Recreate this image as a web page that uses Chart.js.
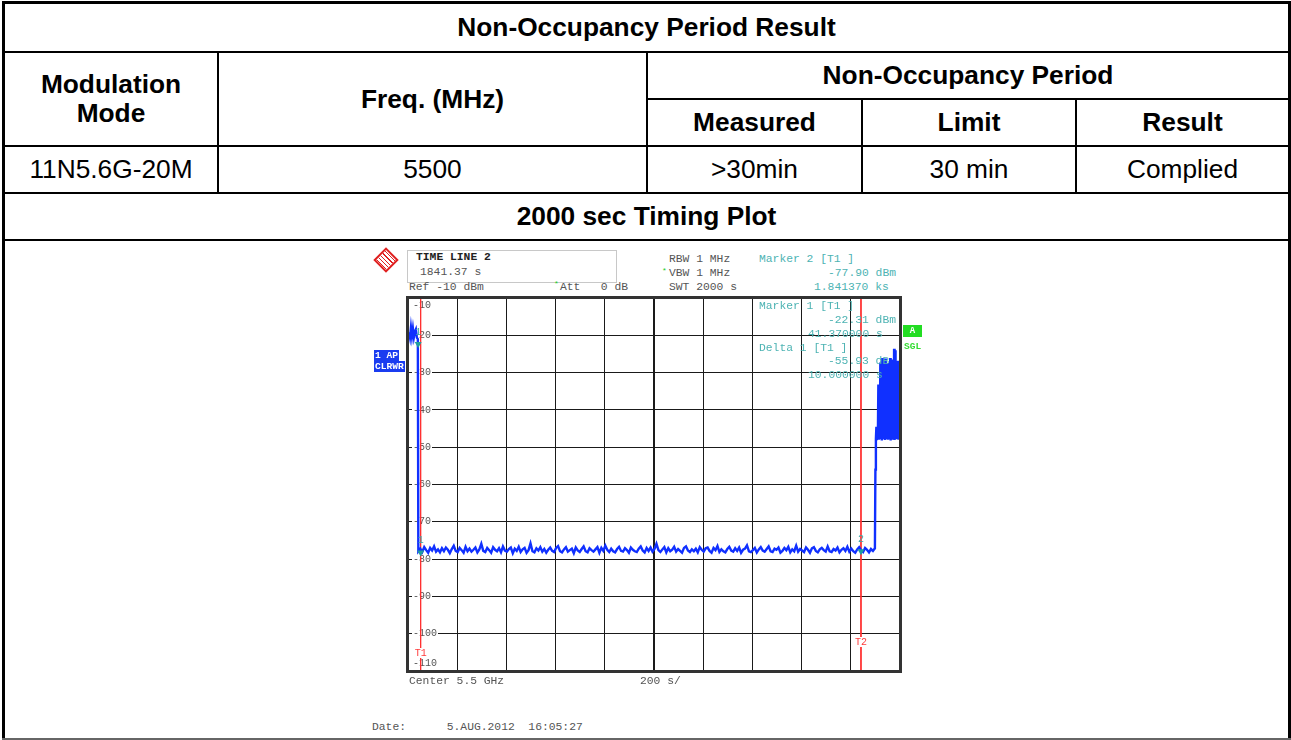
<!DOCTYPE html>
<html>
<head>
<meta charset="utf-8">
<script src="https://cdn.jsdelivr.net/npm/chart.js@4.4.0/dist/chart.umd.min.js"></script>
<style>
  html, body { margin: 0; padding: 0; background: #fff; }
  #page { position: relative; width: 1291px; height: 740px; overflow: hidden; font-family: "Liberation Sans", Arial, sans-serif; color: #000; }
  .ln { position: absolute; background: #000; }
  .cell { position: absolute; display: flex; align-items: center; justify-content: center; text-align: center; font-size: 26.3px; line-height: 29px; }
  .b { font-weight: bold; }
  .m { position: absolute; font: 11.33px/14px "Liberation Mono", monospace; white-space: pre; color: #555; }
  .t { color: #4db3b3; }
  .g { color: #22cc22; }
  #plot { position: absolute; left: 360px; top: 290px; }
  #tlbox { position: absolute; left: 407px; top: 250px; width: 208px; height: 31px; border: 1px solid #c8c8c8; }
  #logo { position: absolute; left: 377px; top: 251px; width: 14px; height: 14px; border: 2px solid #e02020; transform: rotate(45deg);
          background: repeating-linear-gradient(0deg, #e02020 0 1px, #fff 1px 3px); }
  #trc { position: absolute; left: 374px; top: 350px; font: bold 9.6px/11px "Liberation Mono", monospace; color: #fff; }
  #trc span { display: block; background: #1a3cf0; padding: 0 1px; width: fit-content; }
  #abox { position: absolute; left: 903px; top: 325px; width: 19px; height: 12px; background: #22dd22; color: #fff; font: bold 9px/12px "Liberation Mono", monospace; text-align: center; }
  #sgl { position: absolute; left: 904px; top: 341px; color: #33dd33; font: bold 9.5px/11px "Liberation Mono", monospace; }
</style>
</head>
<body>
<div id="page">
  <!-- table frame -->
  <div class="ln" style="left:2px;top:1px;width:1289px;height:3px"></div>
  <div class="ln" style="left:2px;top:1px;width:3px;height:739px"></div>
  <div class="ln" style="left:1288px;top:1px;width:3px;height:739px"></div>
  <div class="ln" style="left:2px;top:51px;width:1289px;height:2px"></div>
  <div class="ln" style="left:646px;top:98px;width:645px;height:2px"></div>
  <div class="ln" style="left:2px;top:145px;width:1289px;height:2px"></div>
  <div class="ln" style="left:2px;top:192px;width:1289px;height:2px"></div>
  <div class="ln" style="left:2px;top:239px;width:1289px;height:2px"></div>
  <div class="ln" style="left:2px;top:738px;width:1289px;height:2px;background:#666"></div>
  <div class="ln" style="left:217px;top:51px;width:2px;height:143px"></div>
  <div class="ln" style="left:646px;top:51px;width:2px;height:143px"></div>
  <div class="ln" style="left:861px;top:98px;width:2px;height:96px"></div>
  <div class="ln" style="left:1075px;top:98px;width:2px;height:96px"></div>

  <div class="cell b" style="left:5px;top:4px;width:1283px;height:47px">Non-Occupancy Period Result</div>
  <div class="cell b" style="left:5px;top:53px;width:212px;height:92px">Modulation<br>Mode</div>
  <div class="cell b" style="left:219px;top:53px;width:427px;height:92px">Freq. (MHz)</div>
  <div class="cell b" style="left:648px;top:53px;width:640px;height:45px">Non-Occupancy Period</div>
  <div class="cell b" style="left:648px;top:100px;width:213px;height:45px">Measured</div>
  <div class="cell b" style="left:863px;top:100px;width:212px;height:45px">Limit</div>
  <div class="cell b" style="left:1077px;top:100px;width:211px;height:45px">Result</div>
  <div class="cell" style="left:5px;top:147px;width:212px;height:45px">11N5.6G-20M</div>
  <div class="cell" style="left:219px;top:147px;width:427px;height:45px">5500</div>
  <div class="cell" style="left:648px;top:147px;width:213px;height:45px">&gt;30min</div>
  <div class="cell" style="left:863px;top:147px;width:212px;height:45px">30 min</div>
  <div class="cell" style="left:1077px;top:147px;width:211px;height:45px">Complied</div>
  <div class="cell b" style="left:5px;top:194px;width:1283px;height:45px">2000 sec Timing Plot</div>

  <!-- analyzer screen -->
  <div id="logo"></div>
  <div id="tlbox"></div>
  <div class="m" style="left:416px;top:250px;font-weight:bold;color:#222">TIME LINE 2</div>
  <div class="m" style="left:420px;top:265px">1841.37 s</div>
  <div class="m" style="left:409px;top:280px">Ref -10 dBm</div>
  <div class="m g" style="left:554px;top:277px;font-size:8px">*</div>
  <div class="m" style="left:560px;top:280px">Att   0 dB</div>
  <div class="m" style="left:669px;top:252px">RBW 1 MHz</div>
  <div class="m g" style="left:662px;top:264px;font-size:8px">*</div>
  <div class="m" style="left:669px;top:266px">VBW 1 MHz</div>
  <div class="m" style="left:669px;top:280px">SWT 2000 s</div>
  <div class="m t" style="left:759px;top:252px">Marker 2 [T1 ]</div>
  <div class="m t" style="left:828px;top:266px">-77.90 dBm</div>
  <div class="m t" style="left:814px;top:280px">1.841370 ks</div>

  <canvas id="plot" width="570" height="400"></canvas>

  <div class="m t" style="left:759px;top:299px">Marker 1 [T1 ]</div>
  <div class="m t" style="left:828px;top:313px">-22.31 dBm</div>
  <div class="m t" style="left:808px;top:327px">41.370000 s</div>
  <div class="m t" style="left:759px;top:341px">Delta 1 [T1 ]</div>
  <div class="m t" style="left:828px;top:354px">-55.93 dB</div>
  <div class="m t" style="left:808px;top:368px">10.000000 s</div>
  <div id="abox">A</div>
  <div id="sgl">SGL</div>
  <div id="trc"><span>1 AP</span><span>CLRWR</span></div>
  <div class="m" style="left:409px;top:674px">Center 5.5 GHz</div>
  <div class="m" style="left:640px;top:674px">200 s/</div>
  <div class="m" style="left:372px;top:720px">Date:      5.AUG.2012  16:05:27</div>
</div>

<script>
// sweep: 2000 s, ref level -10 dBm, 10 dB/div
const sweepStart = 0;
const sweepEnd = 2000;
const sweepStep = 200;
const levelTop = -10;
const levelBottom = -110;
const levelStep = 10;

// before the channel is vacated (every 4 s from 0 s)
const startTime0 = 0, startDt = 4;
const startLevels = [-20.4, -19.2, -20.6, -17.9, -20.3, -18.2, -20.5, -19.0, -18.4, -20.6, -21.0];

// noise floor during non-occupancy (every 8 s from 42 s)
const floorTime0 = 42, floorDt = 8;
const floorLevels = [
  -77.9, -77.2, -78.1, -76.8, -77.6, -78.3, -77.0, -77.7, -76.6, -78.0,
  -77.4, -78.2, -77.1, -77.9, -76.9, -77.5, -78.4, -77.3, -76.4, -77.8,
  -78.1, -77.0, -77.6, -78.3, -76.7, -77.9, -77.2, -78.0, -77.5, -76.9,
  -78.2, -77.4, -75.9, -77.8, -78.1, -77.0, -77.6, -78.3, -76.8, -77.5,
  -77.9, -77.1, -78.2, -76.6, -77.7, -78.0, -77.3, -76.9, -78.4, -77.2,
  -77.8, -76.7, -78.1, -77.4, -77.0, -78.3, -77.6, -75.8, -77.9, -78.2,
  -77.1, -77.7, -76.8, -78.0, -77.3, -78.3, -77.5, -76.9, -77.8, -78.1,
  -77.0, -76.5, -77.9, -78.2, -77.4, -76.8, -78.0, -77.6, -77.2, -78.4,
  -76.9, -77.7, -78.1, -77.3, -76.6, -77.9, -78.2, -77.1, -77.6, -78.0,
  -77.4, -76.8, -78.3, -77.0, -77.8, -76.4, -77.5, -78.1, -77.2, -77.9,
  -78.2, -77.3, -76.7, -77.8, -78.0, -77.1, -77.6, -78.3, -76.9, -77.5,
  -77.9, -78.1, -77.2, -76.6, -77.7, -78.2, -77.0, -77.8, -76.9, -78.0,
  -77.3, -75.9, -77.6, -78.1, -77.4, -76.8, -78.2, -77.1, -77.9, -77.5,
  -76.7, -78.0, -77.3, -77.8, -78.3, -77.0, -76.6, -77.7, -78.1, -77.4,
  -77.9, -77.2, -78.2, -76.8, -77.5, -78.0, -77.1, -76.9, -77.8, -78.3,
  -77.0, -77.6, -76.5, -78.1, -77.4, -77.9, -78.2, -77.3, -76.7, -77.7,
  -78.0, -77.1, -77.8, -76.9, -78.3, -77.5, -77.2, -76.3, -77.9, -78.1,
  -77.6, -77.0, -78.2, -77.4, -76.8, -77.7, -78.0, -77.3, -76.6, -77.9,
  -78.1, -77.2, -77.5, -76.9, -78.3, -77.8, -77.0, -77.6, -76.7, -78.2,
  -77.4, -77.9, -76.4, -78.0, -77.3, -77.7, -78.1, -76.9, -77.5, -78.3,
  -77.1, -76.8, -77.8, -78.2, -77.4, -77.0, -77.6, -78.0, -76.6, -77.9,
  -78.1, -77.3, -77.7, -76.9, -78.2, -77.5, -77.1, -77.8, -76.7, -78.0,
  -77.2, -77.9, -78.3, -77.4, -76.8, -77.6, -78.1, -77.0, -77.5, -78.2,
  -77.3, -77.8, -77.1
];

// traffic returns at the end of the sweep (every 2 s from 1900 s)
const burstTime0 = 1900, burstDt = 2;
const burstLevels = [
  -56.0, -47.8, -44.5, -48.1, -44.8, -47.6, -33.2, -48.0, -33.6, -47.5,
  -27.3, -47.9, -27.0, -48.2, -26.1, -47.4, -26.4, -47.8, -28.0, -48.1,
  -26.2, -47.3, -27.6, -47.9, -28.5, -48.0, -27.4, -47.6, -29.8, -47.9,
  -26.1, -48.2, -27.9, -47.5, -26.5, -48.0, -30.2, -47.7, -23.6, -48.1,
  -24.0, -47.4, -27.2, -47.9, -26.9, -47.6, -26.8, -48.0, -26.9, -47.7,
  -26.9
];

// markers: marker 1, marker 2, delta 1
const markerNames = ['1', '2', '1'];
const markerTimes = [41.37, 1841.37, 51.37];
const markerLevels = [-22.31, -77.90, -78.24];

// time lines T1 / T2
const timeLineNames = ['T1', 'T2'];
const timeLineTimes = [51.37, 1841.37];

function segment(t0, dt, levels) {
  return levels.map((v, i) => ({ x: t0 + i * dt, y: v }));
}

const traceData = [
  ...segment(startTime0, startDt, startLevels),
  ...segment(floorTime0, floorDt, floorLevels),
  ...segment(burstTime0, burstDt, burstLevels),
];

const markerData = markerTimes.map((t, i) => ({ x: t, y: markerLevels[i] }));

const timeLineSets = timeLineTimes.map((t, i) => ({
  label: timeLineNames[i],
  data: [{ x: t, y: levelTop }, { x: t, y: levelBottom }],
  borderColor: '#ff3030',
  borderWidth: 1,
  pointRadius: 0,
}));

const screenDecor = {
  id: 'screenDecor',
  beforeDatasetsDraw(chart) {
    const { ctx, chartArea, scales: { y } } = chart;
    ctx.save();
    ctx.font = '10px "Liberation Mono", monospace';
    ctx.textBaseline = 'middle';
    const last = y.ticks.length - 1;
    y.ticks.forEach((tick, i) => {
      let py = y.getPixelForValue(tick.value);
      if (i === 0) py -= 8;
      if (i === last) py += 7;
      const text = String(tick.value);
      const w = ctx.measureText(text).width;
      const px = chartArea.left + 5;
      ctx.fillStyle = '#fff';
      ctx.fillRect(px - 1, py - 5, w + 2, 10);
      ctx.fillStyle = '#555';
      ctx.fillText(text, px, py);
    });
    ctx.restore();
  },
  afterDraw(chart) {
    const { ctx, chartArea: a, scales: { x, y } } = chart;
    ctx.save();
    // frame
    ctx.strokeStyle = '#333';
    ctx.lineWidth = 3;
    ctx.strokeRect(a.left - 0.5, a.top - 0.5, a.right - a.left + 1, a.bottom - a.top + 1);
    // marker numbers
    ctx.font = '10px "Liberation Mono", monospace';
    ctx.textAlign = 'center';
    ctx.textBaseline = 'middle';
    ctx.fillStyle = '#3aa8a8';
    markerData.forEach((p, i) => {
      ctx.fillText(markerNames[i], x.getPixelForValue(p.x), y.getPixelForValue(p.y) - 12);
    });
    // time line tags
    const lift = [18, 29];
    timeLineTimes.forEach((t, i) => {
      const px = x.getPixelForValue(t);
      const py = a.bottom - lift[i];
      const w = ctx.measureText(timeLineNames[i]).width;
      ctx.fillStyle = '#fff';
      ctx.fillRect(px - w / 2 - 1, py - 5, w + 2, 10);
      ctx.fillStyle = '#ff3a3a';
      ctx.fillText(timeLineNames[i], px, py);
    });
    ctx.restore();
  }
};

new Chart(document.getElementById('plot'), {
  type: 'line',
  data: {
    datasets: [
      {
        label: 'markers',
        data: markerData,
        showLine: false,
        pointStyle: 'triangle',
        rotation: 180,
        pointRadius: 4,
        pointBackgroundColor: '#1f9e9e',
        pointBorderWidth: 0,
      },
      {
        label: 'trace',
        data: traceData,
        borderColor: '#1030ff',
        borderWidth: 2.4,
        pointRadius: 0,
        tension: 0,
      },
      ...timeLineSets,
    ]
  },
  options: {
    responsive: false,
    animation: false,
    events: [],
    layout: { padding: { left: 48, top: 8, right: 30, bottom: 19 } },
    plugins: { legend: { display: false }, tooltip: { enabled: false } },
    scales: {
      x: {
        type: 'linear',
        min: sweepStart,
        max: sweepEnd,
        ticks: { stepSize: sweepStep, display: false },
        grid: { drawTicks: false, color: '#1a1a1a', lineWidth: c => (c.tick && c.tick.value === 1000 ? 2 : 1) },
        border: { display: false },
      },
      y: {
        min: levelBottom,
        max: levelTop,
        ticks: { stepSize: levelStep, display: false },
        grid: { drawTicks: false, color: '#1a1a1a' },
        border: { display: false },
      }
    }
  },
  plugins: [screenDecor]
});
</script>
</body>
</html>
